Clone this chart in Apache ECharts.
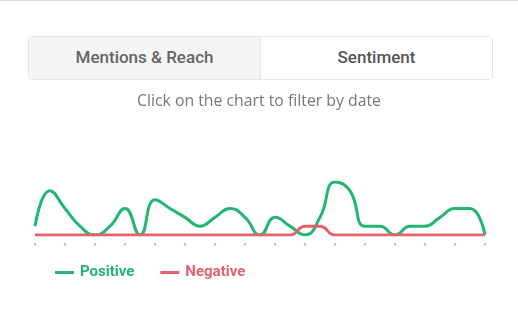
<!DOCTYPE html>
<html>
<head>
<meta charset="utf-8">
<script src="https://cdn.jsdelivr.net/npm/echarts@6/dist/echarts.min.js"></script>
<style>
  html, body { margin: 0; padding: 0; background: #fff; }
  #wrap { position: relative; width: 518px; height: 312px; overflow: hidden; border-top: 1px solid #dcdcdc; box-sizing: border-box; }
  #tabs { position: absolute; left: 28px; top: 35px; width: 465px; height: 44px; border: 1px solid #e6e6e6; border-radius: 4px; display: flex; overflow: hidden; box-sizing: border-box; font-family: Roboto, "Open Sans", sans-serif; }
  .tab { flex: 1 1 0; display: flex; align-items: center; justify-content: center; font-size: 17px; font-weight: 500; color: #666; padding-bottom: 2px; }
  .tab.off { background: #f5f5f5; border-right: 1px solid #e6e6e6; }
  .tab.on { background: #fff; color: #555; }
  #hint { position: absolute; left: 0; width: 518px; top: 88px; text-align: center; font-family: "Open Sans", "Noto Sans", sans-serif; font-size: 15.8px; color: #777; }
  #chart { position: absolute; left: 0; top: 0; width: 518px; height: 312px; }
</style>
</head>
<body>
<div id="wrap">
  <div id="chart"></div>
  <div id="tabs"><div class="tab off">Mentions &amp; Reach</div><div class="tab on">Sentiment</div></div>
  <div id="hint">Click on the chart to filter by date</div>
</div>
<script>
var days = ['1','2','3','4','5','6','7','8','9','10','11','12','13','14','15','16','17','18','19','20','21','22','23','24','25','26','27','28','29','30','31'];
var positive = [1,5,3,1,0,1,3,0,4,3,2,1,2,3,2,0,2,1,0,2,6,5,1,1,0,1,1,2,3,3,0];
var negative = [0,0,0,0,0,0,0,0,0,0,0,0,0,0,0,0,0,0,1,1,0,0,0,0,0,0,0,0,0,0,0];

var chart = echarts.init(document.getElementById('chart'));
chart.setOption({
  animation: false,
  grid: { left: 35, right: 33, top: 181, bottom: 78 },
  xAxis: {
    type: 'category', data: days, boundaryGap: false,
    axisLine: { show: false }, axisTick: { show: false }, splitLine: { show: false },
    axisLabel: { interval: 1, formatter: function () { return '\u25CF'; }, fontSize: 6, color: '#b8b8b8', margin: 6 }
  },
  yAxis: { type: 'value', min: 0, max: 6, show: false, splitLine: { show: false } },
  legend: {
    left: 50, top: 259, itemGap: 26, icon: 'rect', itemWidth: 19, itemHeight: 3,
    textStyle: { fontFamily: 'Roboto, "Open Sans", sans-serif', fontWeight: 'bold', fontSize: 15, color: 'inherit', padding: [0, 0, 0, 1] },
    data: ['Positive', 'Negative']
  },
  series: [
    { name: 'Positive', type: 'line', data: positive, smooth: 0.5, symbol: 'none', lineStyle: { width: 3, color: '#22b573' }, itemStyle: { color: '#22b573' } },
    { name: 'Negative', type: 'line', data: negative, smooth: 0.5, symbol: 'none', lineStyle: { width: 3, color: '#e4626f' }, itemStyle: { color: '#e4626f' } }
  ]
});
</script>
</body>
</html>
